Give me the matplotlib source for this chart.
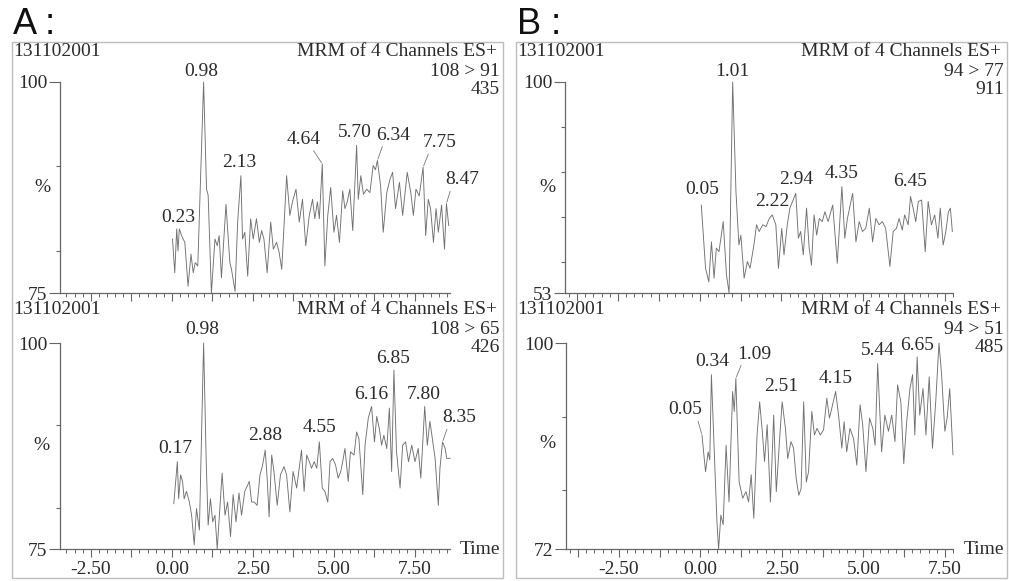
import numpy as np
import matplotlib
matplotlib.use("Agg")
import matplotlib.pyplot as plt
from matplotlib.ticker import FixedLocator, MultipleLocator, FuncFormatter
from matplotlib.patches import Rectangle

# ---- data (time in min, intensity in %) ----
# A, channel 108 > 91
ta_t = [0.02, 0.09, 0.15, 0.19, 0.23, 0.30, 0.40, 0.50, 0.59, 0.66, 0.72, 0.80, 0.98, 1.07, 1.12,
        1.22, 1.33, 1.40, 1.46, 1.53, 1.67, 1.79, 1.84, 1.95, 2.03, 2.13, 2.18, 2.25, 2.34, 2.43,
        2.51, 2.61, 2.70, 2.77, 2.84, 2.94, 3.05, 3.13, 3.23, 3.31, 3.39, 3.54, 3.64, 3.72, 3.83,
        3.93, 4.03, 4.13, 4.24, 4.34, 4.41, 4.49, 4.55, 4.64, 4.72, 4.81, 4.90, 5.00, 5.08, 5.17,
        5.27, 5.34, 5.41, 5.49, 5.58, 5.70, 5.75, 5.83, 5.91, 6.01, 6.11, 6.21, 6.28, 6.34, 6.44,
        6.52, 6.63, 6.73, 6.81, 6.90, 7.02, 7.12, 7.26, 7.37, 7.45, 7.53, 7.63, 7.75, 7.83, 7.91,
        7.98, 8.07, 8.15, 8.22, 8.32, 8.41, 8.47, 8.54]
ta_v = [81.4, 77.4, 82.6, 80.0, 82.6, 81.8, 81.0, 75.8, 79.6, 77.4, 78.6, 78.2, 100.0, 87.3, 86.6,
        75.0, 81.4, 80.6, 81.8, 76.8, 85.5, 78.6, 77.8, 75.2, 83.4, 88.9, 81.4, 82.2, 77.0, 83.8,
        81.4, 83.8, 81.0, 82.4, 81.4, 77.4, 83.4, 80.2, 81.0, 79.8, 77.8, 88.9, 84.2, 85.8, 87.3,
        83.4, 86.1, 80.6, 84.2, 86.1, 83.8, 85.8, 83.8, 90.3, 78.2, 84.2, 87.5, 82.2, 84.2, 81.0,
        87.1, 85.0, 85.8, 87.3, 82.4, 92.5, 86.1, 88.9, 86.7, 87.3, 86.9, 90.1, 89.6, 90.7, 87.7,
        82.2, 86.9, 88.5, 89.3, 85.0, 88.1, 84.2, 89.3, 86.9, 84.2, 87.3, 86.5, 89.9, 81.8, 86.1,
        85.0, 81.0, 85.0, 82.2, 85.4, 80.2, 85.6, 83.0]
ta_peaks = ["0.23", "0.98", "2.13", "4.64", "5.70", "6.34", "7.75", "8.47"]

# A, channel 108 > 65
ba_t = [0.06, 0.17, 0.21, 0.27, 0.33, 0.38, 0.45, 0.54, 0.61, 0.69, 0.76, 0.85, 0.98, 1.06, 1.12,
        1.19, 1.26, 1.33, 1.40, 1.48, 1.55, 1.64, 1.72, 1.81, 1.89, 1.98, 2.07, 2.15, 2.25, 2.39,
        2.46, 2.54, 2.63, 2.72, 2.80, 2.88, 2.94, 3.00, 3.08, 3.15, 3.25, 3.35, 3.46, 3.54, 3.64,
        3.74, 3.85, 4.00, 4.08, 4.16, 4.24, 4.31, 4.39, 4.47, 4.55, 4.64, 4.72, 4.81, 4.88, 4.96,
        5.05, 5.13, 5.21, 5.27, 5.34, 5.44, 5.51, 5.62, 5.70, 5.77, 5.89, 5.96, 6.06, 6.16, 6.25,
        6.32, 6.40, 6.47, 6.54, 6.63, 6.71, 6.78, 6.85, 6.93, 7.04, 7.12, 7.21, 7.30, 7.40, 7.50,
        7.60, 7.68, 7.80, 7.88, 7.96, 8.05, 8.12, 8.22, 8.27, 8.35, 8.43, 8.48, 8.58]
ba_v = [80.5, 85.6, 81.1, 84.0, 83.2, 81.1, 82.0, 80.7, 79.1, 75.5, 79.9, 77.3, 100.0, 85.6, 77.9,
        81.1, 78.3, 79.1, 75.0, 79.9, 84.2, 79.1, 80.7, 76.5, 81.6, 78.3, 81.8, 79.1, 82.0, 83.2,
        80.7, 80.7, 80.3, 84.0, 85.2, 87.0, 83.6, 78.9, 86.4, 84.4, 80.3, 84.0, 85.0, 84.0, 79.5,
        84.4, 82.4, 87.0, 82.0, 86.4, 85.6, 84.8, 85.6, 84.8, 88.0, 82.4, 82.0, 80.7, 85.6, 86.0,
        85.2, 83.6, 84.4, 85.6, 87.2, 83.2, 86.8, 86.4, 89.2, 88.4, 81.6, 87.6, 90.9, 92.3, 88.0,
        91.1, 89.6, 87.6, 88.8, 87.2, 92.1, 84.4, 96.7, 86.8, 82.4, 87.6, 88.0, 85.6, 87.6, 85.6,
        87.2, 83.6, 92.3, 87.6, 90.5, 88.0, 86.0, 80.3, 84.8, 88.0, 87.2, 86.0, 86.0]
ba_peaks = ["0.17", "0.98", "2.88", "4.55", "6.16", "6.85", "7.80", "8.35"]

# B, channel 94 > 77
tb_t = [0.05, 0.18, 0.28, 0.36, 0.44, 0.51, 0.59, 0.72, 0.82, 0.90, 1.01, 1.11, 1.20, 1.26, 1.36,
        1.46, 1.54, 1.66, 1.74, 1.82, 1.93, 2.03, 2.13, 2.22, 2.33, 2.41, 2.51, 2.58, 2.68, 2.76,
        2.94, 3.02, 3.09, 3.17, 3.27, 3.35, 3.42, 3.50, 3.58, 3.66, 3.75, 3.83, 3.93, 4.07, 4.21,
        4.35, 4.44, 4.52, 4.68, 4.78, 4.88, 4.98, 5.08, 5.19, 5.29, 5.39, 5.49, 5.59, 5.69, 5.82,
        5.92, 6.02, 6.10, 6.20, 6.27, 6.38, 6.45, 6.53, 6.61, 6.69, 6.79, 6.90, 6.99, 7.09, 7.19,
        7.29, 7.36, 7.45, 7.53, 7.61, 7.67, 7.73]
tb_v = [72.6, 58.5, 55.5, 64.4, 56.3, 63.0, 62.2, 68.9, 57.0, 53.0, 100.0, 75.6, 63.7, 65.9, 56.3,
        60.0, 58.5, 63.7, 68.2, 66.7, 68.2, 67.8, 69.6, 70.4, 68.2, 58.5, 67.4, 61.5, 68.2, 71.9,
        75.2, 65.2, 66.7, 61.5, 71.9, 63.0, 59.2, 70.4, 65.9, 69.6, 68.9, 71.1, 68.9, 72.6, 59.6,
        76.7, 65.2, 69.6, 75.2, 64.4, 68.9, 66.7, 67.4, 71.9, 64.4, 69.6, 68.2, 68.9, 67.4, 58.9,
        66.7, 67.4, 69.6, 67.0, 70.4, 68.2, 74.5, 71.9, 68.9, 73.4, 73.7, 62.2, 73.4, 68.2, 70.4,
        65.2, 71.9, 63.7, 66.7, 71.1, 71.9, 66.7]
tb_peaks = ["0.05", "1.01", "2.22", "2.94", "4.35", "6.45"]

# B, channel 94 > 51
bb_t = [0.05, 0.16, 0.24, 0.29, 0.34, 0.42, 0.51, 0.56, 0.63, 0.70, 0.79, 0.88, 0.99, 1.04, 1.09,
        1.19, 1.30, 1.40, 1.48, 1.56, 1.64, 1.74, 1.82, 1.90, 1.97, 2.05, 2.15, 2.25, 2.33, 2.44,
        2.51, 2.61, 2.68, 2.78, 2.86, 2.94, 3.02, 3.09, 3.17, 3.25, 3.32, 3.42, 3.50, 3.58, 3.68,
        3.78, 3.88, 3.96, 4.03, 4.15, 4.24, 4.34, 4.41, 4.49, 4.59, 4.70, 4.80, 4.90, 4.98, 5.08,
        5.19, 5.29, 5.36, 5.44, 5.56, 5.66, 5.77, 5.87, 5.97, 6.05, 6.15, 6.24, 6.33, 6.43, 6.51,
        6.58, 6.65, 6.73, 6.83, 6.92, 7.02, 7.12, 7.22, 7.32, 7.40, 7.50, 7.57, 7.65, 7.75]
bb_v = [87.5, 82.5, 85.2, 84.1, 95.7, 86.1, 75.7, 72.0, 76.6, 75.3, 86.1, 78.4, 93.4, 90.7, 95.2,
        81.1, 78.9, 79.8, 78.4, 82.1, 76.2, 87.5, 92.0, 88.0, 83.9, 88.9, 78.4, 90.2, 79.8, 87.5,
        92.0, 88.4, 84.3, 86.6, 85.7, 81.6, 79.3, 80.2, 92.0, 81.1, 82.5, 90.7, 87.5, 88.4, 87.5,
        88.2, 92.5, 89.8, 91.1, 93.4, 90.2, 85.7, 89.3, 85.2, 88.4, 87.0, 83.4, 91.6, 88.9, 82.5,
        89.8, 88.4, 86.1, 97.2, 85.2, 90.2, 88.0, 90.2, 86.6, 94.3, 92.0, 83.6, 89.3, 93.8, 95.7,
        87.5, 98.1, 90.2, 93.8, 87.5, 95.4, 85.7, 92.0, 100.0, 95.7, 88.0, 89.8, 93.8, 84.8]
bb_peaks = ["0.05", "0.34", "1.09", "2.51", "4.15", "5.44", "6.65"]

sample_id = "131102001"
mrm_title = "MRM of 4 Channels ES+"

W, H = 1009, 581
fig = plt.figure(figsize=(W / 100, H / 100), dpi=100)
fig.patch.set_facecolor("white")

SERIF = "Liberation Serif"
TXT = "#2b2b2b"
AXC = "#666666"
FS = 14


def fx(x):
    return x / W


def fy(y):
    return 1 - y / H


def rect(l, t, r, b):
    return [l / W, 1 - b / H, (r - l) / W, (b - t) / H]


# outer frames of the two scanned panels
for x0, x1 in [(12, 503), (516, 1007)]:
    fig.add_artist(Rectangle((fx(x0), fy(578)), (x1 - x0) / W, (578 - 42) / H,
                             transform=fig.transFigure, fill=False,
                             edgecolor="#bdbdbd", lw=1.0))

fig.text(fx(13), fy(24), "A :", fontsize=26, family="Liberation Sans", va="center", color="#111")
fig.text(fx(517), fy(24), "B :", fontsize=26, family="Liberation Sans", va="center", color="#111")

# per-panel layout: axes box in pixels, x range, y bottom, header lines, label positions
panels = [
    dict(t=ta_t, v=ta_v, peaks=ta_peaks, box=(60, 82, 450, 293), xlim=(-3.45, 8.58), ymin=75,
         frame=(12, 503), hy=52, chan="108 > 91", count="435", bottom=False, pct=(42, 187),
         lab={"0.23": (0.19, 84.0), "0.98": (0.92, 101.3), "2.13": (2.08, 90.5),
              "4.64": (4.07, 93.2, (0.75, -0.05)), "5.70": (5.65, 94.0),
              "6.34": (6.83, 93.7, (0.2, -0.05)), "7.75": (8.25, 92.8, (0.2, -0.05)),
              "8.47": (8.97, 88.4, (0.15, -0.05))}),
    dict(t=ba_t, v=ba_v, peaks=ba_peaks, box=(60, 343, 450, 549), xlim=(-3.45, 8.58), ymin=75,
         frame=(12, 503), hy=310, chan="108 > 65", count="426", bottom=True, pct=(41, 445),
         lab={"0.17": (0.12, 87.2), "0.98": (0.94, 101.6), "2.88": (2.87, 88.75),
              "4.55": (4.55, 89.8), "6.16": (6.14, 93.7), "6.85": (6.83, 98.1),
              "7.80": (7.78, 93.7), "8.35": (8.87, 90.9, (0.15, -0.05))}),
    dict(t=tb_t, v=tb_v, peaks=tb_peaks, box=(565, 82, 953, 293), xlim=(-4.12, 7.75), ymin=53,
         frame=(516, 1007), hy=52, chan="94 > 77", count="911", bottom=False, pct=(547, 187),
         lab={"0.05": (0.08, 76.1), "1.01": (1.0, 102.4), "2.22": (2.22, 73.3),
              "2.94": (2.94, 78.2), "4.35": (4.33, 79.6), "6.45": (6.43, 77.8)}),
    dict(t=bb_t, v=bb_v, peaks=bb_peaks, box=(566, 343, 953, 549), xlim=(-4.12, 7.75), ymin=72,
         frame=(516, 1007), hy=310, chan="94 > 51", count="485", bottom=True, pct=(547, 444),
         lab={"0.05": (-0.45, 90.9, (0.85, -0.05)), "0.34": (0.36, 97.5),
              "1.09": (1.64, 98.5, (0.15, -0.05)), "2.51": (2.48, 94.1),
              "4.15": (4.14, 95.2), "5.44": (5.43, 99.0), "6.65": (6.64, 99.7)}),
]

for p in panels:
    ax = fig.add_axes(rect(*p["box"]))
    t = np.array(p["t"])
    v = np.array(p["v"])
    ax.plot(t, v, color="#707070", lw=0.65, clip_on=False)
    ax.set_xlim(*p["xlim"])
    ax.set_ylim(p["ymin"], 100)
    ax.set_facecolor("none")
    for s in ["top", "right"]:
        ax.spines[s].set_visible(False)
    for s in ["left", "bottom"]:
        ax.spines[s].set_color(AXC)
        ax.spines[s].set_linewidth(0.9)

    # y ticks: end values labelled, every 10 % unlabelled
    ax.yaxis.set_major_locator(FixedLocator([p["ymin"], 100]))
    ax.yaxis.set_minor_locator(FixedLocator([y for y in range(60, 100, 10) if y > p["ymin"]]))
    ax.yaxis.set_major_formatter(FuncFormatter(lambda y, pos: f"{y:.0f}"))
    ax.tick_params(axis="y", which="major", length=8, width=0.8, color=AXC, pad=1,
                   labelsize=FS, labelcolor=TXT)
    ax.tick_params(axis="y", which="minor", length=3, width=0.8, color=AXC)

    # x ticks every 0.25 min, longer every 1.25 min
    ax.xaxis.set_major_locator(MultipleLocator(1.25))
    ax.xaxis.set_minor_locator(MultipleLocator(0.25))
    ax.tick_params(axis="x", which="major", length=6, width=0.8, color=AXC, pad=3,
                   labelsize=FS, labelcolor=TXT)
    ax.tick_params(axis="x", which="minor", length=3, width=0.7, color=AXC)
    if p["bottom"]:
        ax.xaxis.set_major_formatter(FuncFormatter(
            lambda x, pos: f"{x:.2f}".replace("\u2212", "-") if abs(x / 2.5 - round(x / 2.5)) < 1e-6 else ""))
        fig.text(fx(p["frame"][1] - 43), fy(549), "Time", fontsize=FS, family=SERIF,
                 va="center", ha="left", color=TXT)
    else:
        ax.xaxis.set_major_formatter(FuncFormatter(lambda x, pos: ""))
    for lab in ax.get_xticklabels() + ax.get_yticklabels():
        lab.set_family(SERIF)

    # peak labels
    for name in p["peaks"]:
        pt = float(name)
        i = int(np.argmin(np.abs(t - pt)))
        spec = p["lab"][name]
        if len(spec) == 3:
            ax.annotate(name, xy=(t[i], v[i]), xytext=(spec[0], spec[1]), ha="center", va="center",
                        fontsize=FS, family=SERIF, color=TXT, annotation_clip=False,
                        arrowprops=dict(arrowstyle="-", color="#777777", lw=0.6,
                                        relpos=spec[2], shrinkA=0, shrinkB=1))
        else:
            ax.text(spec[0], spec[1], name, ha="center", va="center", fontsize=FS,
                    family=SERIF, color=TXT, clip_on=False)

    # header lines
    x0, x1 = p["frame"]
    hy = p["hy"]
    fig.text(fx(x0 + 1), fy(hy), sample_id, fontsize=FS, family=SERIF, va="center",
             ha="left", color=TXT)
    fig.text(fx(x1 - 6), fy(hy), mrm_title, fontsize=FS, family=SERIF, va="center",
             ha="right", color=TXT)
    fig.text(fx(x1 - 3), fy(hy + 19), p["chan"], fontsize=FS, family=SERIF, va="center",
             ha="right", color=TXT)
    fig.text(fx(x1 - 3), fy(hy + 38), p["count"], fontsize=FS, family=SERIF, va="center",
             ha="right", color=TXT)
    fig.text(fx(p["pct"][0]), fy(p["pct"][1]), "%", fontsize=FS, family=SERIF, va="center",
             ha="center", color=TXT)

fig.savefig("out.png", dpi=100)
